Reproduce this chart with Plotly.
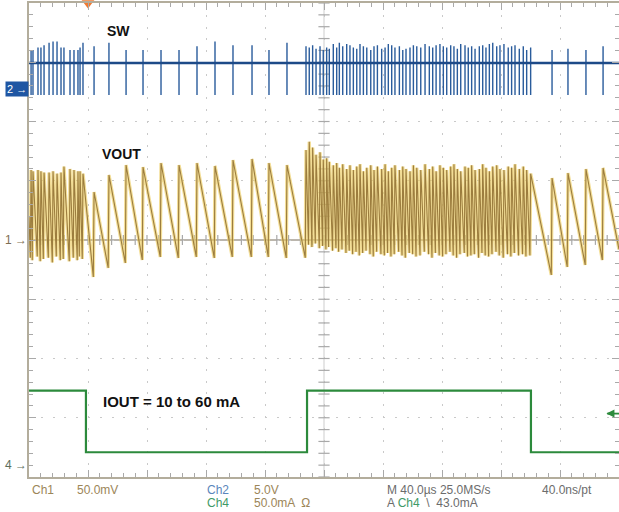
import numpy as np
import plotly.graph_objects as go

# ---------------- data (time in microseconds, 40 us/div) ----------------
T_END = 400.0

# switching events (SW pulses) per region
burst1_t = [1.4, 2.7, 6.1, 8.1, 10.2, 13.6, 16.3, 19.0, 21.7, 23.7, 27.8, 30.5, 33.2, 34.6, 36.6]
pfm1_t = [44.1, 54.2, 65.8, 77.3, 89.5, 101.7, 113.9, 126.1, 138.3, 151.2, 162.7, 174.9]
burst2_t = [187.8, 190.0, 192.3, 194.6, 197.3, 199.5, 201.8, 203.6,
            206.3, 208.6, 210.4, 212.7, 215.4, 217.6, 219.9, 222.2,
            224.4, 226.7, 229.0, 231.7, 233.9, 236.2, 239.1, 241.4,
            243.6, 245.9, 248.1, 251.1, 253.4, 255.6, 258.3, 260.6,
            262.9, 265.6, 268.5, 271.4, 273.7, 276.0, 278.6, 280.9,
            283.2, 285.9, 288.1, 290.4, 292.7, 295.6, 297.8, 300.1,
            302.4, 305.3, 307.6, 309.8, 312.1, 314.4, 317.1, 319.3,
            322.0, 324.9, 327.2, 329.5, 332.4, 335.1, 337.4, 340.1]
pfm2_t = [354.6, 365.4, 377.6, 389.2]

# SW (Ch2, volts): pulse tops, common baseline and undershoot
burst1_sw = [3.3, 3.3, 3.5, 3.5, 3.7, 3.9, 4.0, 4.0, 3.5, 3.5, 3.3, 3.3, 3.3, 3.5, 3.9]
pfm1_sw = [3.6, 3.9, 3.3, 3.3, 3.3, 3.3, 3.6, 4.0, 3.7, 3.7, 3.3, 3.9]
burst2_sw = [3.6, 3.5, 3.7, 3.4, 3.6, 3.3, 3.5, 3.4,
             3.8, 3.5, 3.9, 3.6, 3.8, 3.7, 3.5, 3.4,
             3.8, 3.6, 3.5, 3.3, 3.6, 3.7, 3.4, 3.5,
             3.8, 3.7, 3.5, 3.6, 3.3, 3.4, 3.5, 3.7,
             3.6, 3.5, 3.8, 3.6, 3.5, 3.7, 3.8, 3.6,
             3.5, 3.7, 3.6, 3.4, 3.8, 3.7, 3.5, 3.6,
             3.4, 3.6, 3.7, 3.5, 3.8, 3.9, 3.6, 3.7,
             3.8, 3.5, 3.6, 3.7, 3.4, 3.6, 3.3, 3.5]
pfm2_sw = [3.3, 3.4, 3.3, 3.6]
SW_BASE = 2.19
SW_LOW = -0.5

# VOUT (Ch1, mV ripple): peak after each pulse, trough just before it
burst1_peak = [59, 58, 59, 58, 57, 57, 58, 56, 57, 62, 60, 59, 58, 58, 56]
burst1_trough = [-15, -17, -14, -18, -16, -15, -19, -14, -17, -16, -18, -15, -17, -14, -16]
pfm1_peak = [40.5, 54.9, 63.3, 61.6, 65.0, 63.3, 65.0, 62.5, 67.5, 68.4, 65.0, 63.3]
pfm1_trough = [-31.2, -23.6, -19.4, -16.9, -14.3, -15.2, -14.3, -15.2, -14.3, -14.3, -14.3, -15.2]
burst2_peak = [76, 83, 78, 72, 74, 68, 69, 66,
               63, 65, 61, 64, 60, 63, 59, 62,
               64, 58, 61, 63, 59, 62, 60, 64,
               58, 61, 63, 59, 62, 60, 58, 63,
               61, 59, 64, 60, 62, 58, 63, 61,
               59, 62, 64, 60, 58, 62, 61, 63,
               59, 60, 64, 61, 58, 62, 63, 60,
               59, 62, 61, 64, 60, 62, 59, 56]
burst2_trough = [-15, -4, -6, -3, -7, -5, -8, -6,
                 -9, -7, -10, -8, -11, -9, -12, -10,
                 -13, -11, -9, -12, -14, -10, -12, -13,
                 -11, -14, -12, -10, -13, -15, -11, -12,
                 -14, -13, -10, -12, -15, -11, -13, -14,
                 -12, -10, -13, -15, -12, -11, -14, -13,
                 -12, -15, -11, -13, -14, -12, -10, -13,
                 -15, -12, -14, -11, -13, -12, -14, -13]
pfm2_peak = [52.3, 56.5, 59.9, 60.8]
pfm2_trough = [-29.5, -22.8, -21.1, -16.9]
VOUT_START = 20
VOUT_END = -8
RISE_US = 0.5

# IOUT (Ch4, mA) load steps
iout_t = [0.0, 38.6, 188.5, 340.3, 400.0]
iout_v = [62.4, 10.4, 62.4, 10.4, 10.4]
TRIG_MA = 43.0

# ---------------- build polylines ----------------
pulse_t = burst1_t + pfm1_t + burst2_t + pfm2_t
sw_top = burst1_sw + pfm1_sw + burst2_sw + pfm2_sw
v_peak = burst1_peak + pfm1_peak + burst2_peak + pfm2_peak
v_trough = burst1_trough + pfm1_trough + burst2_trough + pfm2_trough

sw_x, sw_y = [0.0], [SW_BASE]
for t, top in zip(pulse_t, sw_top):
    sw_x += [t, t, t, t]
    sw_y += [SW_BASE, top, SW_LOW, SW_BASE]
sw_x.append(T_END)
sw_y.append(SW_BASE)

vo_x, vo_y = [0.0], [VOUT_START]
for t, pk, tr in zip(pulse_t, v_peak, v_trough):
    vo_x += [t - RISE_US, t]
    vo_y += [tr, pk]
vo_x.append(T_END)
vo_y.append(VOUT_END)

# ---------------- figure ----------------
W, H = 619, 512
ML, MR, MT, MB = 29, 0, 3, 35

fig = go.Figure()

grid_col = "#c9c9c9"
axis_col = "#b3ad9c"
tick_col = "#a9a9a9"

# centre-axis tick marks
fig.add_trace(go.Scatter(
    x=np.arange(0, 400.1, 8), y=np.zeros(51), mode="markers",
    marker=dict(symbol="line-ns-open", size=7, color=tick_col, line=dict(color=tick_col, width=1.2)),
    hoverinfo="skip", showlegend=False))
fig.add_trace(go.Scatter(
    x=np.full(41, 200.0), y=np.arange(-200, 200.1, 10), mode="markers",
    marker=dict(symbol="line-ew-open", size=8, color=tick_col, line=dict(color=tick_col, width=1.2)),
    hoverinfo="skip", showlegend=False))

# SW (Ch2)
fig.add_trace(go.Scatter(x=sw_x, y=sw_y, mode="lines", yaxis="y2",
                         line=dict(color="#2a5c9c", width=1.4),
                         hoverinfo="skip", showlegend=False))
fig.add_trace(go.Scatter(x=[0, T_END], y=[SW_BASE, SW_BASE], mode="lines", yaxis="y2",
                         line=dict(color="#1d4a88", width=2.6),
                         hoverinfo="skip", showlegend=False))

# VOUT (Ch1)
fig.add_trace(go.Scatter(x=vo_x, y=vo_y, mode="lines",
                         line=dict(color="rgba(236,204,96,0.65)", width=3.4),
                         hoverinfo="skip", showlegend=False))
fig.add_trace(go.Scatter(x=vo_x, y=vo_y, mode="lines",
                         line=dict(color="#9c7d3e", width=1.1),
                         hoverinfo="skip", showlegend=False))

# IOUT (Ch4)
fig.add_trace(go.Scatter(x=iout_t, y=iout_v, mode="lines", yaxis="y3",
                         line=dict(color="#2c8a3c", width=2.2, shape="hv"),
                         hoverinfo="skip", showlegend=False))

# trigger position marker
fig.add_trace(go.Scatter(x=[40], y=[200], mode="markers", cliponaxis=False,
                         marker=dict(symbol="triangle-down", size=11, color="#f07a32"),
                         hoverinfo="skip", showlegend=False))

axis_common = dict(
    showgrid=True, gridcolor=grid_col, gridwidth=1.3, griddash="2px,9.8px",
    showticklabels=False, ticks="inside", ticklen=7, tickcolor=tick_col, tickwidth=1,
    showline=True, linecolor=axis_col, linewidth=1.5, mirror="ticks", zeroline=False,
    automargin=False,
)

fig.update_layout(
    width=W, height=H, autosize=False,
    margin=dict(l=ML, r=MR, t=MT, b=MB, pad=0, autoexpand=False),
    paper_bgcolor="white", plot_bgcolor="white",
    xaxis=dict(range=[0, T_END], dtick=40, tick0=0,
               minor=dict(dtick=8, ticks="inside", ticklen=4, tickcolor=tick_col, showgrid=False),
               **axis_common),
    yaxis=dict(range=[-200, 200], dtick=50, tick0=0,
               minor=dict(dtick=10, ticks="inside", ticklen=4, tickcolor=tick_col, showgrid=False),
               **axis_common),
    yaxis2=dict(range=[-32.74, 7.257], overlaying="y", visible=False),
    yaxis3=dict(range=[-10.5, 389.5], overlaying="y", visible=False),
    shapes=[
        dict(type="line", xref="x", yref="y", x0=0, x1=T_END, y0=0, y1=0,
             line=dict(color="#a49e92", width=1.6), layer="below"),
        dict(type="line", xref="x", yref="y", x0=200, x1=200, y0=-200, y1=200,
             line=dict(color="#cdcdcd", width=1), layer="below"),
        dict(type="line", xref="x", yref="y3", x0=392, x1=400, y0=TRIG_MA, y1=TRIG_MA,
             line=dict(color="#2c8a3c", width=1.8)),
    ],
    font=dict(family="Liberation Sans, Arial, sans-serif"),
)

def px_x(px):
    return (px - ML) / (W - ML - MR)

def px_y(py):
    return (H - MB - py) / (H - MB - MT)

ann = []
# waveform labels
ann.append(dict(text="<b>SW</b>", x=px_x(118), y=px_y(31), xref="paper", yref="paper",
                xanchor="center", yanchor="middle",
                showarrow=False, font=dict(size=14, color="#111111")))
ann.append(dict(text="<b>VOUT</b>", x=px_x(121), y=px_y(154), xref="paper", yref="paper",
                xanchor="center", yanchor="middle",
                showarrow=False, font=dict(size=14, color="#111111")))
ann.append(dict(text="<b>IOUT = 10 to 60 mA</b>", x=px_x(171), y=px_y(401), xref="paper", yref="paper",
                xanchor="center", yanchor="middle",
                showarrow=False, font=dict(size=15, color="#111111")))

# channel ground markers
ann.append(dict(text="2 \u2192", x=0, y=0, xref="paper", yref="y2", xanchor="right", yanchor="middle",
                showarrow=False, bgcolor="#1f56a3", borderpad=1,
                font=dict(size=11, color="white")))
ann.append(dict(text="1 \u2192", x=0, y=0, xref="paper", yref="y", xanchor="right", yanchor="middle",
                showarrow=False, font=dict(size=12, color="#7d6e52")))
ann.append(dict(text="4 \u2192", x=0, y=0, xref="paper", yref="y3", xanchor="right", yanchor="middle",
                showarrow=False, font=dict(size=12, color="#5c6e5c")))

# trigger level arrow head (Ch4)
ann.append(dict(text="", x=391.5, y=TRIG_MA, xref="x", yref="y3",
                ax=396, ay=TRIG_MA, axref="x", ayref="y3",
                showarrow=True, arrowhead=2, arrowsize=1, arrowwidth=1.6, arrowcolor="#2c8a3c"))

# bottom readouts
tan = "#9c8658"
grey = "#6c6c6c"
r1, r2 = px_y(490), px_y(503)
def lab(text, px, yy, color):
    return dict(text=text, x=px_x(px), y=yy, xref="paper", yref="paper", xanchor="left",
                yanchor="middle", showarrow=False, font=dict(size=12, color=color))

ann += [
    lab("Ch1", 30, r1, tan),
    lab("50.0mV", 75, r1, tan),
    lab("Ch2", 205, r1, "#5a86bc"),
    lab("5.0V", 252, r1, tan),
    lab("Ch4", 205, r2, "#3f9a66"),
    lab("50.0mA  \u03a9", 252, r2, tan),
    lab("M 40.0\u00b5s 25.0MS/s", 385, r1, grey),
    lab("40.0ns/pt", 540, r1, grey),
    lab("A <span style='color:#3f9a66'>Ch4</span>  \\  43.0mA", 385, r2, grey),
]

fig.update_layout(annotations=ann)

fig.write_html("out.html", config={"responsive": False, "displayModeBar": False},
               post_script="document.body.style.margin='0';document.body.style.padding='0';document.body.style.overflow='hidden';")
